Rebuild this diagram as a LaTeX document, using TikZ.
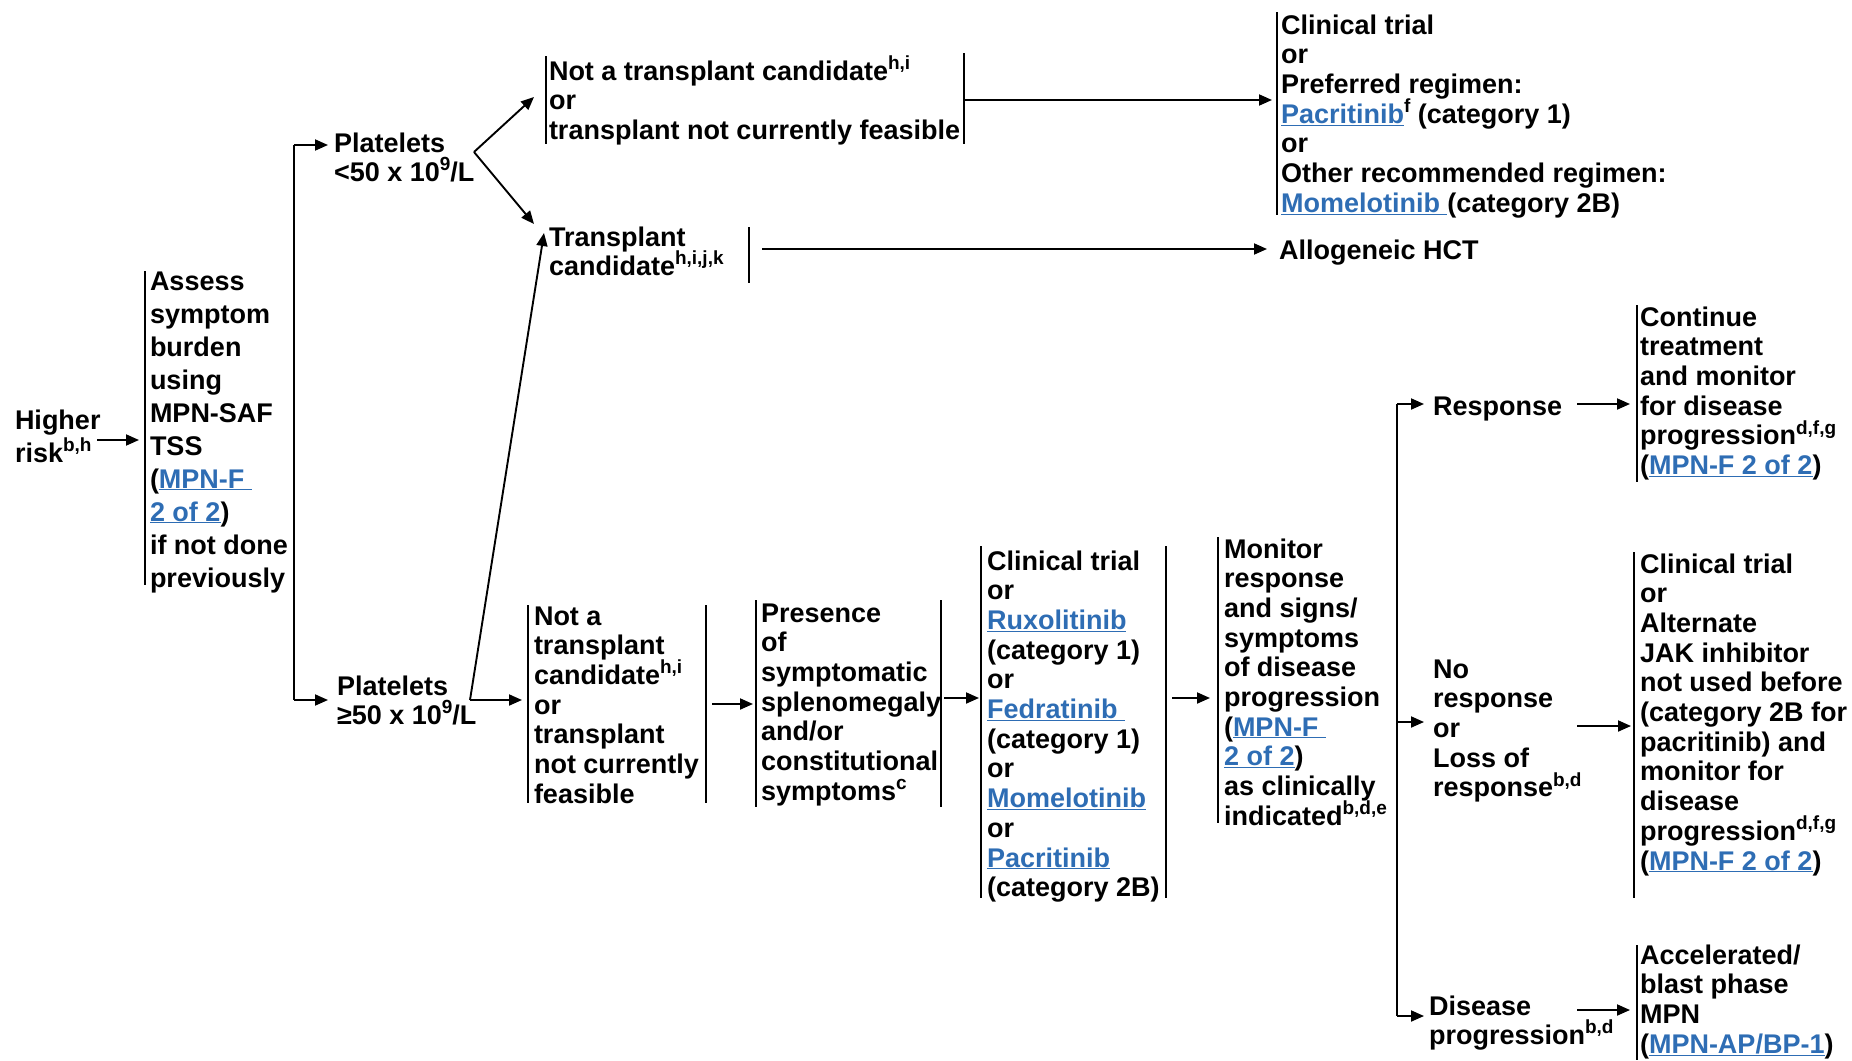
\documentclass[tikz,border=0pt]{standalone}
\usepackage{fontspec}
\setmainfont{Liberation Sans}
\usetikzlibrary{arrows.meta}
\definecolor{lblue}{RGB}{46,109,180}
\newcommand\lnk[1]{{\color{lblue}\underline{#1}}}
\newcommand\spx[1]{\raisebox{0.40em}{\fontsize{19}{19}\selectfont #1}}
\newcommand\fl{\rule{0pt}{26pt}}
\setlength{\lineskiplimit}{-30pt}
\begin{document}
\begin{tikzpicture}[x=1pt,y=-1pt,
  txt/.style={anchor=north west, inner sep=0pt, outer sep=0pt, align=left,
    font=\fontsize{27}{29.7}\selectfont\bfseries},
  txtw/.style={txt, font=\fontsize{27}{33}\selectfont\bfseries},
  bar/.style={line width=1.9pt},
  conn/.style={line width=1.9pt},
  arr/.style={line width=1.9pt, -{Triangle[length=13pt,width=11pt]}}
]
\useasboundingbox (0,0) rectangle (1852,1060);

% ---------- nodes ----------
\node[txtw] (hr) at (15,403) {\fl Higher\\risk\spx{b,h}};
\node[txtw] (assess) at (150,264) {\fl Assess\\symptom\\burden\\using\\MPN-SAF\\TSS\\(\lnk{MPN-F }\\\lnk{2 of 2})\\if not done\\previously};
\node[txt] (p1) at (334,126) {\fl Platelets\\<50 x 10\spx{9}/L};
\node[txt] (p2) at (337,669) {\fl Platelets\\≥50 x 10\spx{9}/L};
\node[txt] (ntc1) at (549,54) {\fl Not a transplant candidate\spx{h,i}\\or\\transplant not currently feasible};
\node[txt] (tc) at (549,220) {\fl Transplant\\candidate\spx{h,i,j,k}};
\node[txt] (ct1) at (1281,8) {\fl Clinical trial\\or\\Preferred regimen:\\\lnk{Pacritinib}\spx{f} (category 1)\\or\\Other recommended regimen:\\\lnk{Momelotinib }(category 2B)};
\node[txt] (allo) at (1279,233) {\fl Allogeneic HCT};
\node[txt] (nta) at (534,599) {\fl Not a\\transplant\\candidate\spx{h,i}\\or\\transplant\\not currently\\feasible};
\node[txt] (pres) at (761,596) {\fl Presence\\of\\symptomatic\\splenomegaly\\and/or\\constitutional\\symptoms\spx{c}};
\node[txt] (ctb) at (987,544) {\fl Clinical trial\\or\\\lnk{Ruxolitinib}\\(category 1)\\or\\\lnk{Fedratinib }\\(category 1)\\or\\\lnk{Momelotinib}\\or\\\lnk{Pacritinib}\\(category 2B)};
\node[txt] (mon) at (1224,532) {\fl Monitor\\response\\and signs/\\symptoms\\of disease\\progression\\(\lnk{MPN-F }\\\lnk{2 of 2})\\as clinically\\indicated\spx{b,d,e}};
\node[txt] (resp) at (1433,389) {\fl Response};
\node[txt] (cont) at (1640,300) {\fl Continue\\treatment\\and monitor\\for disease\\progression\spx{d,f,g}\\(\lnk{MPN-F 2 of 2})};
\node[txt] (nores) at (1433,652) {\fl No\\response\\or\\Loss of\\response\spx{b,d}};
\node[txt] (ct2) at (1640,547) {\fl Clinical trial\\or\\Alternate\\JAK inhibitor\\not used before\\(category 2B for\\pacritinib) and\\monitor for\\disease\\progression\spx{d,f,g}\\(\lnk{MPN-F 2 of 2})};
\node[txt] (dprog) at (1429,989) {\fl Disease\\progression\spx{b,d}};
\node[txt] (accel) at (1640,938) {\fl Accelerated/\\blast phase\\MPN\\(\lnk{MPN-AP/BP-1})};

% ---------- bars ----------
\draw[bar] (145,271) -- (145,585);
\draw[bar] (546,56) -- (546,144);
\draw[bar] (964,53) -- (964,144);
\draw[bar] (749,227) -- (749,283);
\draw[bar] (1277,12) -- (1277,215);
\draw[bar] (528,605) -- (528,803);
\draw[bar] (706,605) -- (706,803);
\draw[bar] (756,600) -- (756,807);
\draw[bar] (941,600) -- (941,807);
\draw[bar] (981,546) -- (981,898);
\draw[bar] (1166,546) -- (1166,898);
\draw[bar] (1218,537) -- (1218,823);
\draw[bar] (1637,305) -- (1637,482);
\draw[bar] (1634,552) -- (1634,898);
\draw[bar] (1637,945) -- (1637,1060);

% ---------- connectors ----------
\coordinate (hro) at (97,440);
\draw[arr, shorten >=11pt] (hro) -- (hro -| assess.west);

\coordinate (v1t) at (294,145);
\coordinate (v1b) at (294,700);
\draw[conn] (v1t) -- (v1b);
\draw[arr, shorten >=6pt] (v1t) -- (v1t -| p1.west);
\draw[arr, shorten >=9pt] (v1b) -- (v1b -| p2.west);

\coordinate (p1o) at (474,152);
\coordinate (ntc1in) at (534,97);
\coordinate (tcin) at (534,224);
\draw[arr] (p1o) -- (ntc1in);
\draw[arr] (p1o) -- (tcin);

\coordinate (ntc1o) at (964,100);
\draw[arr, shorten >=9pt] (ntc1o) -- (ntc1o -| ct1.west);

\coordinate (tco) at (762,249);
\draw[arr, shorten >=12pt] (tco) -- (tco -| allo.west);

\coordinate (p2o) at (470,700);
\coordinate (tcin2) at (544,233);
\draw[arr, shorten >=12pt] (p2o) -- (p2o -| nta.west);
\draw[arr] (p2o) -- (tcin2);

\coordinate (ntao) at (712,704);
\draw[arr, shorten >=8pt] (ntao) -- (ntao -| pres.west);
\coordinate (preso) at (944,698);
\draw[arr, shorten >=8pt] (preso) -- (preso -| ctb.west);
\coordinate (ctbo) at (1172,698);
\draw[arr, shorten >=14pt] (ctbo) -- (ctbo -| mon.west);

\coordinate (v2t) at (1397,404);
\coordinate (v2m) at (1397,722);
\coordinate (v2b) at (1397,1016);
\draw[conn] (v2t) -- (v2b);
\draw[arr, shorten >=9pt] (v2t) -- (v2t -| resp.west);
\draw[arr, shorten >=9pt] (v2m) -- (v2m -| nores.west);
\draw[arr, shorten >=5pt] (v2b) -- (v2b -| dprog.west);

\coordinate (respo) at (1577,404);
\draw[arr, shorten >=10pt] (respo) -- (respo -| cont.west);
\coordinate (noreso) at (1577,726);
\draw[arr, shorten >=9pt] (noreso) -- (noreso -| ct2.west);
\coordinate (dprogo) at (1577,1010);
\draw[arr, shorten >=10pt] (dprogo) -- (dprogo -| accel.west);
\end{tikzpicture}
\end{document}
